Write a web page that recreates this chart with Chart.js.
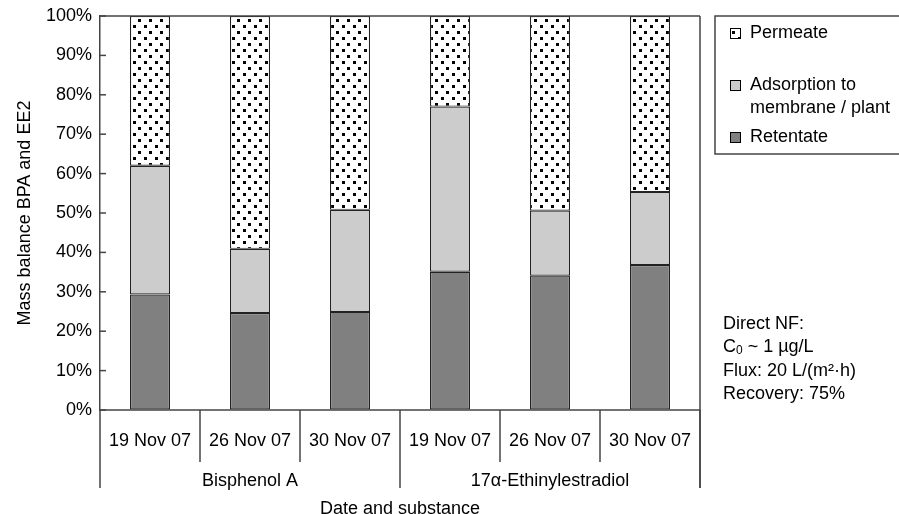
<!DOCTYPE html>
<html>
<head>
<meta charset="utf-8">
<script src="https://cdn.jsdelivr.net/npm/chart.js@4"></script>
<style>
  body { margin: 0; background: #fff; }
  canvas { display: block; }
</style>
</head>
<body>
<canvas id="chart" width="899" height="514"></canvas>
<script>
// Mass balance data (%)
const dates = ['19 Nov 07', '26 Nov 07', '30 Nov 07', '19 Nov 07', '26 Nov 07', '30 Nov 07'];
const substances = ['Bisphenol A', '17\u03b1-Ethinylestradiol'];
const retentate = [29.3, 24.6, 24.9, 35.1, 34.1, 36.8];
const adsorption = [32.7, 16.3, 25.9, 41.9, 16.5, 18.5];
const permeate = [38.0, 59.1, 49.2, 23.0, 49.4, 44.7];
const yTicks = [0, 10, 20, 30, 40, 50, 60, 70, 80, 90, 100];
const notes = ['Direct NF:', 'C0 ~ 1 \u00b5g/L', 'Flux: 20 L/(m\u00b2\u00b7h)', 'Recovery: 75%'];

const FONT = '"Liberation Sans", Arial, Helvetica, sans-serif';
const LINE = '#444';

// dotted fill for the permeate segment
function dotPattern() {
    const c = document.createElement('canvas');
    c.width = 11;
    c.height = 12;
    const g = c.getContext('2d');
    g.fillStyle = '#fff';
    g.fillRect(0, 0, 11, 12);
    g.fillStyle = '#000';
    g.fillRect(1, 1, 3, 3);
    g.fillRect(6, 7, 3, 3);
    return g.createPattern(c, 'repeat');
}

const ctx = document.getElementById('chart').getContext('2d');
const dots = dotPattern();

// axes frame, two-level category axis, legend and notes
const decorations = {
    id: 'decorations',
    afterDraw(chart) {
        const c = chart.ctx;
        const area = chart.chartArea;
        const x = chart.scales.x;
        const y = chart.scales.y;
        const step = x.getPixelForValue(1) - x.getPixelForValue(0);
        c.save();
        c.strokeStyle = LINE;
        c.lineWidth = 1.5;
        c.fillStyle = '#000';
        c.font = '18px ' + FONT;

        // frame: top, bottom, right, and left extension under the axis
        c.beginPath();
        c.moveTo(area.left, area.top);
        c.lineTo(area.right, area.top);
        c.moveTo(area.left, area.bottom);
        c.lineTo(area.right, area.bottom);
        c.moveTo(area.right, area.top);
        c.lineTo(area.right, area.bottom + 78);
        c.moveTo(area.left, area.bottom);
        c.lineTo(area.left, area.bottom + 78);
        c.stroke();

        // inward y ticks
        yTicks.forEach(v => {
            const py = y.getPixelForValue(v);
            c.beginPath();
            c.moveTo(area.left, py);
            c.lineTo(area.left + 6, py);
            c.stroke();
        });

        // date dividers and labels
        c.textAlign = 'center';
        c.textBaseline = 'middle';
        dates.forEach((d, i) => {
            const cx = x.getPixelForValue(i);
            c.fillText(d, cx, area.bottom + 31);
            const edge = cx + step / 2;
            const long = (i + 1) % 3 === 0;
            c.beginPath();
            c.moveTo(edge, area.bottom);
            c.lineTo(edge, area.bottom + (long ? 78 : 52));
            c.stroke();
        });

        // substance groups
        substances.forEach((s, i) => {
            const a = x.getPixelForValue(i * 3) - step / 2;
            const b = x.getPixelForValue(i * 3 + 2) + step / 2;
            c.fillText(s, (a + b) / 2, area.bottom + 71);
        });
        c.fillText('Date and substance', (area.left + area.right) / 2, area.bottom + 99);

        // y title
        c.save();
        c.translate(25, (area.top + area.bottom) / 2);
        c.rotate(-Math.PI / 2);
        c.fillText('Mass balance BPA and EE2', 0, 0);
        c.restore();

        // legend box
        const lx = 715, ly = area.top;
        c.strokeStyle = LINE;
        c.strokeRect(lx, ly, 190, 138);
        const items = [
            { color: dots, lines: ['Permeate'], y: ly + 17 },
            { color: '#cccccc', lines: ['Adsorption to', 'membrane / plant'], y: ly + 69 },
            { color: '#808080', lines: ['Retentate'], y: ly + 121 }
        ];
        c.textAlign = 'left';
        items.forEach(it => {
            c.fillStyle = it.color;
            c.fillRect(lx + 15, it.y - 5, 10, 10);
            c.strokeStyle = '#000';
            c.lineWidth = 1;
            c.strokeRect(lx + 15.5, it.y - 4.5, 10, 10);
            c.fillStyle = '#000';
            it.lines.forEach((t, k) => c.fillText(t, lx + 35, it.y + k * 23));
        });

        // notes
        let ny = 324;
        notes.forEach(t => {
            if (t.startsWith('C0')) {
                c.fillText('C', 723, ny);
                const w = c.measureText('C').width;
                c.font = '12px ' + FONT;
                c.fillText('0', 723 + w, ny + 3);
                const w0 = c.measureText('0').width;
                c.font = '18px ' + FONT;
                c.fillText(t.slice(2), 723 + w + w0, ny);
            } else {
                c.fillText(t, 723, ny);
            }
            ny += 23.3;
        });
        c.restore();
    }
};

new Chart(ctx, {
    type: 'bar',
    data: {
        labels: dates,
        datasets: [
            { label: 'Retentate', data: retentate, backgroundColor: '#808080' },
            { label: 'Adsorption to membrane / plant', data: adsorption, backgroundColor: '#cccccc' },
            { label: 'Permeate', data: permeate, backgroundColor: dots }
        ].map(ds => Object.assign(ds, {
            borderColor: '#222',
            borderWidth: 1.2,
            borderSkipped: false,
            barPercentage: 0.4,
            categoryPercentage: 1
        }))
    },
    options: {
        responsive: false,
        animation: false,
        layout: { padding: { top: 16, right: 199, left: 0, bottom: 0 } },
        plugins: {
            legend: { display: false },
            tooltip: { enabled: false }
        },
        scales: {
            x: {
                stacked: true,
                ticks: { display: false },
                grid: { display: false },
                border: { display: false },
                afterFit: s => { s.height = 104; s.paddingLeft = 0; s.paddingRight = 0; }
            },
            y: {
                stacked: true,
                min: 0,
                max: 100,
                afterBuildTicks: s => { s.ticks = yTicks.map(v => ({ value: v })); },
                ticks: {
                    padding: 8,
                    color: '#000',
                    font: { size: 18, family: FONT },
                    callback: v => v + '%'
                },
                grid: { display: true, drawOnChartArea: false, drawTicks: false },
                border: { display: true, color: LINE, width: 1.5 },
                afterFit: s => { s.width = 100; s.paddingTop = 0; s.paddingBottom = 0; }
            }
        }
    },
    plugins: [decorations]
});
</script>
</body>
</html>
